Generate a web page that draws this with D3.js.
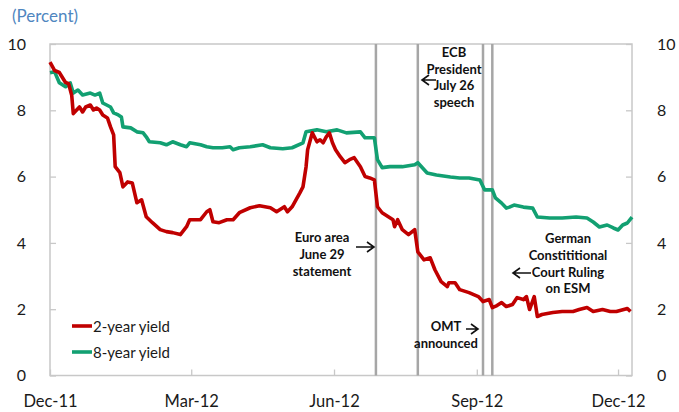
<!DOCTYPE html>
<html>
<head>
<meta charset="utf-8">
<script src="https://cdn.jsdelivr.net/npm/d3@7"></script>
<style>
  body { margin: 0; background: #fff; }
  text { font-family: Lato, "Open Sans", sans-serif; }
</style>
</head>
<body>
<div id="plot"></div>
<script>
// 2-year yield
const DATES_2Y = ["2011-12-01","2011-12-04","2011-12-07","2011-12-11","2011-12-13","2011-12-15","2011-12-16","2011-12-18","2011-12-20","2011-12-22","2011-12-24","2011-12-27","2011-12-29","2011-12-31","2012-01-02","2012-01-04","2012-01-07","2012-01-09","2012-01-11","2012-01-12","2012-01-15","2012-01-17","2012-01-20","2012-01-23","2012-01-26","2012-01-29","2012-02-01","2012-02-05","2012-02-10","2012-02-14","2012-02-18","2012-02-23","2012-02-27","2012-02-29","2012-03-07","2012-03-11","2012-03-13","2012-03-15","2012-03-19","2012-03-24","2012-03-28","2012-04-01","2012-04-08","2012-04-14","2012-04-21","2012-04-25","2012-04-30","2012-05-02","2012-05-05","2012-05-10","2012-05-12","2012-05-14","2012-05-15","2012-05-18","2012-05-21","2012-05-23","2012-05-25","2012-05-27","2012-05-29","2012-05-31","2012-06-02","2012-06-05","2012-06-08","2012-06-11","2012-06-14","2012-06-18","2012-06-21","2012-06-24","2012-06-27","2012-06-29","2012-07-02","2012-07-09","2012-07-10","2012-07-12","2012-07-15","2012-07-19","2012-07-23","2012-07-25","2012-07-29","2012-08-02","2012-08-05","2012-08-09","2012-08-13","2012-08-14","2012-08-18","2012-08-21","2012-08-27","2012-09-02","2012-09-05","2012-09-09","2012-09-11","2012-09-14","2012-09-17","2012-09-20","2012-09-24","2012-09-27","2012-10-01","2012-10-03","2012-10-05","2012-10-08","2012-10-10","2012-10-13","2012-10-20","2012-10-26","2012-11-02","2012-11-06","2012-11-11","2012-11-15","2012-11-21","2012-11-26","2012-11-30","2012-12-07","2012-12-09"];
const YIELD_2Y = [9.45,9.20,9.14,8.84,8.80,8.45,7.90,8.00,8.10,7.95,8.10,8.16,8.01,8.07,8.01,7.86,7.77,7.50,7.26,6.30,6.12,5.69,5.84,5.81,5.21,5.30,4.79,4.61,4.40,4.34,4.31,4.25,4.49,4.70,4.70,4.94,5.00,4.64,4.61,4.70,4.70,4.91,5.06,5.12,5.06,4.94,5.09,4.94,5.09,5.51,5.69,6.30,6.81,7.32,7.05,7.11,7.02,7.20,7.32,7.02,6.81,6.60,6.42,6.51,6.57,6.30,6.00,5.96,5.90,5.09,4.91,4.70,4.49,4.70,4.40,4.25,4.40,3.73,3.49,3.55,3.19,2.83,2.68,2.80,2.80,2.59,2.50,2.38,2.23,2.29,2.05,2.11,2.20,2.08,2.14,2.35,2.29,2.38,1.99,2.38,1.78,1.84,1.90,1.93,1.93,1.99,2.05,1.93,1.99,1.93,1.93,2.02,1.93];

// 8-year yield
const DATES_8Y = ["2011-12-01","2011-12-04","2011-12-07","2011-12-11","2011-12-14","2011-12-16","2011-12-19","2011-12-22","2011-12-27","2011-12-30","2012-01-02","2012-01-04","2012-01-09","2012-01-11","2012-01-14","2012-01-16","2012-01-17","2012-01-22","2012-01-26","2012-01-30","2012-02-01","2012-02-03","2012-02-10","2012-02-14","2012-02-18","2012-02-23","2012-02-27","2012-02-29","2012-03-07","2012-03-11","2012-03-15","2012-03-21","2012-03-26","2012-03-28","2012-04-01","2012-04-08","2012-04-16","2012-04-21","2012-04-29","2012-05-05","2012-05-12","2012-05-14","2012-05-21","2012-05-27","2012-06-03","2012-06-09","2012-06-18","2012-06-21","2012-06-27","2012-06-29","2012-07-02","2012-07-07","2012-07-15","2012-07-23","2012-07-25","2012-07-31","2012-08-06","2012-08-15","2012-08-21","2012-08-27","2012-09-03","2012-09-06","2012-09-11","2012-09-13","2012-09-17","2012-09-20","2012-09-22","2012-09-25","2012-10-01","2012-10-07","2012-10-10","2012-10-18","2012-10-26","2012-11-04","2012-11-11","2012-11-15","2012-11-19","2012-11-24","2012-11-28","2012-12-01","2012-12-04","2012-12-07","2012-12-10"];
const YIELD_8Y = [9.13,9.16,8.83,8.71,8.83,8.52,8.61,8.46,8.52,8.46,8.52,8.22,8.10,7.92,7.86,7.80,7.50,7.47,7.35,7.32,7.20,7.05,7.02,6.96,7.05,6.96,6.90,7.02,6.96,6.90,6.87,6.87,6.90,6.81,6.87,6.90,6.96,6.87,6.84,6.87,7.02,7.35,7.41,7.35,7.41,7.32,7.35,7.17,7.17,6.51,6.27,6.30,6.30,6.36,6.42,6.11,6.05,5.99,5.96,5.96,5.90,5.60,5.60,5.36,5.20,5.05,5.08,5.14,5.08,5.05,4.78,4.75,4.75,4.78,4.75,4.63,4.48,4.54,4.45,4.39,4.54,4.60,4.78];

const X_TICKS = ["2011-12-01","2012-03-01","2012-06-01","2012-09-01","2012-12-01"];
const Y_TICKS = [0, 2, 4, 6, 8, 10];
const EVENT_DATES = ["2012-06-28","2012-07-25","2012-09-05","2012-09-11"];

const parse = d3.timeParse("%Y-%m-%d");

let width = 679;
let height = 412;
let pLeft = 50, pRight = 632, pTop = 44, pBottom = 375.5;

let svg = d3.select("#plot")
  .append("svg")
    .attr("width", width)
    .attr("height", height);

let x = d3.scaleTime()
  .domain([parse("2011-12-01"), parse("2012-12-10")])
  .range([pLeft, pRight]);

let y = d3.scaleLinear()
  .domain([0, 10])
  .range([pBottom, pTop]);

// plot frame
svg.append("rect")
  .attr("x", pLeft).attr("y", pTop)
  .attr("width", pRight - pLeft).attr("height", pBottom - pTop)
  .attr("fill", "none")
  .attr("stroke", "#c8c8c8")
  .attr("stroke-width", 1.5);

// axes (inward ticks)
let axisStyle = function(g) {
  g.select(".domain").remove();
  g.selectAll(".tick line").attr("stroke", "#c8c8c8").attr("stroke-width", 1.3);
  g.selectAll(".tick text").attr("fill", "#1a1a1a").style("font-size", "16px").style("font-family", "Lato, sans-serif");
};

svg.append("g")
  .attr("transform", "translate(" + pLeft + ",0)")
  .call(d3.axisLeft(y).tickValues(Y_TICKS).tickSize(-6).tickPadding(24))
  .call(axisStyle);

svg.append("g")
  .attr("transform", "translate(" + pRight + ",0)")
  .call(d3.axisRight(y).tickValues(Y_TICKS).tickSize(-6).tickPadding(25))
  .call(axisStyle);

svg.append("g")
  .attr("transform", "translate(0," + pBottom + ")")
  .call(d3.axisBottom(x).tickValues(X_TICKS.map(parse)).tickFormat(d3.timeFormat("%b-%y")).tickSize(-6).tickPadding(20))
  .call(axisStyle)
  .selectAll(".tick text").style("font-size", "16.5px");

// event lines
svg.append("g")
  .selectAll("line")
  .data(EVENT_DATES)
  .enter()
  .append("line")
    .attr("x1", function(d) { return x(parse(d)); })
    .attr("x2", function(d) { return x(parse(d)); })
    .attr("y1", pTop)
    .attr("y2", pBottom)
    .attr("stroke", "#a6a6a6")
    .attr("stroke-width", 2.5);

// series
let line = d3.line()
  .x(function(d) { return x(d[0]); })
  .y(function(d) { return y(d[1]); });

let series = [
  { dates: DATES_8Y, vals: YIELD_8Y, color: "#12a072" },
  { dates: DATES_2Y, vals: YIELD_2Y, color: "#c00000" }
];

series.forEach(function(s) {
  let pts = s.dates.map(function(d, i) { return [parse(d), s.vals[i]]; });
  svg.append("path")
    .datum(pts)
    .attr("d", line)
    .attr("fill", "none")
    .attr("stroke", s.color)
    .attr("stroke-width", 3.6)
    .attr("stroke-linejoin", "round");
});

// title
svg.append("text")
  .attr("x", 12).attr("y", 22)
  .attr("fill", "#4f86c0")
  .style("font-size", "17px")
  .text("(Percent)");

// legend
let legend = [
  { name: "2-year yield", color: "#c00000", ly: 326 },
  { name: "8-year yield", color: "#12a072", ly: 352 }
];
legend.forEach(function(l) {
  svg.append("line")
    .attr("x1", 72).attr("x2", 92)
    .attr("y1", l.ly).attr("y2", l.ly)
    .attr("stroke", l.color).attr("stroke-width", 3.6);
  svg.append("text")
    .attr("x", 93).attr("y", l.ly + 5.5)
    .attr("fill", "#1a1a1a")
    .style("font-size", "15px")
    .text(l.name);
});

// annotations
function note(lines, cx, y0, dy) {
  let t = svg.append("text")
    .attr("text-anchor", "middle")
    .attr("fill", "#111")
    .style("font-size", "13px")
    .style("font-weight", "bold");
  lines.forEach(function(s, i) {
    t.append("tspan").attr("x", cx).attr("y", y0 + i * dy).text(s);
  });
}

function arrow(x1, x2, ay) {
  let dir = x2 > x1 ? 1 : -1;
  svg.append("path")
    .attr("d", "M" + x1 + "," + ay + "H" + x2 +
      "M" + (x2 - dir * 7) + "," + (ay - 5) + "L" + x2 + "," + ay + "L" + (x2 - dir * 7) + "," + (ay + 5))
    .attr("fill", "none")
    .attr("stroke", "#111")
    .attr("stroke-width", 1.6);
}

note(["Euro area", "June 29", "statement"], 322, 242, 17);
arrow(356, 374, 247);

note(["ECB", "President", "July 26", "speech"], 454, 57, 16.7);
arrow(436, 422, 80);

note(["OMT"], 446, 331, 0);
note(["announced"], 446, 348, 0);
arrow(466, 478, 329);

note(["German", "Constititional", "Court Ruling", "on ESM"], 568, 243, 16.8);
arrow(531, 513, 273);
</script>
</body>
</html>
